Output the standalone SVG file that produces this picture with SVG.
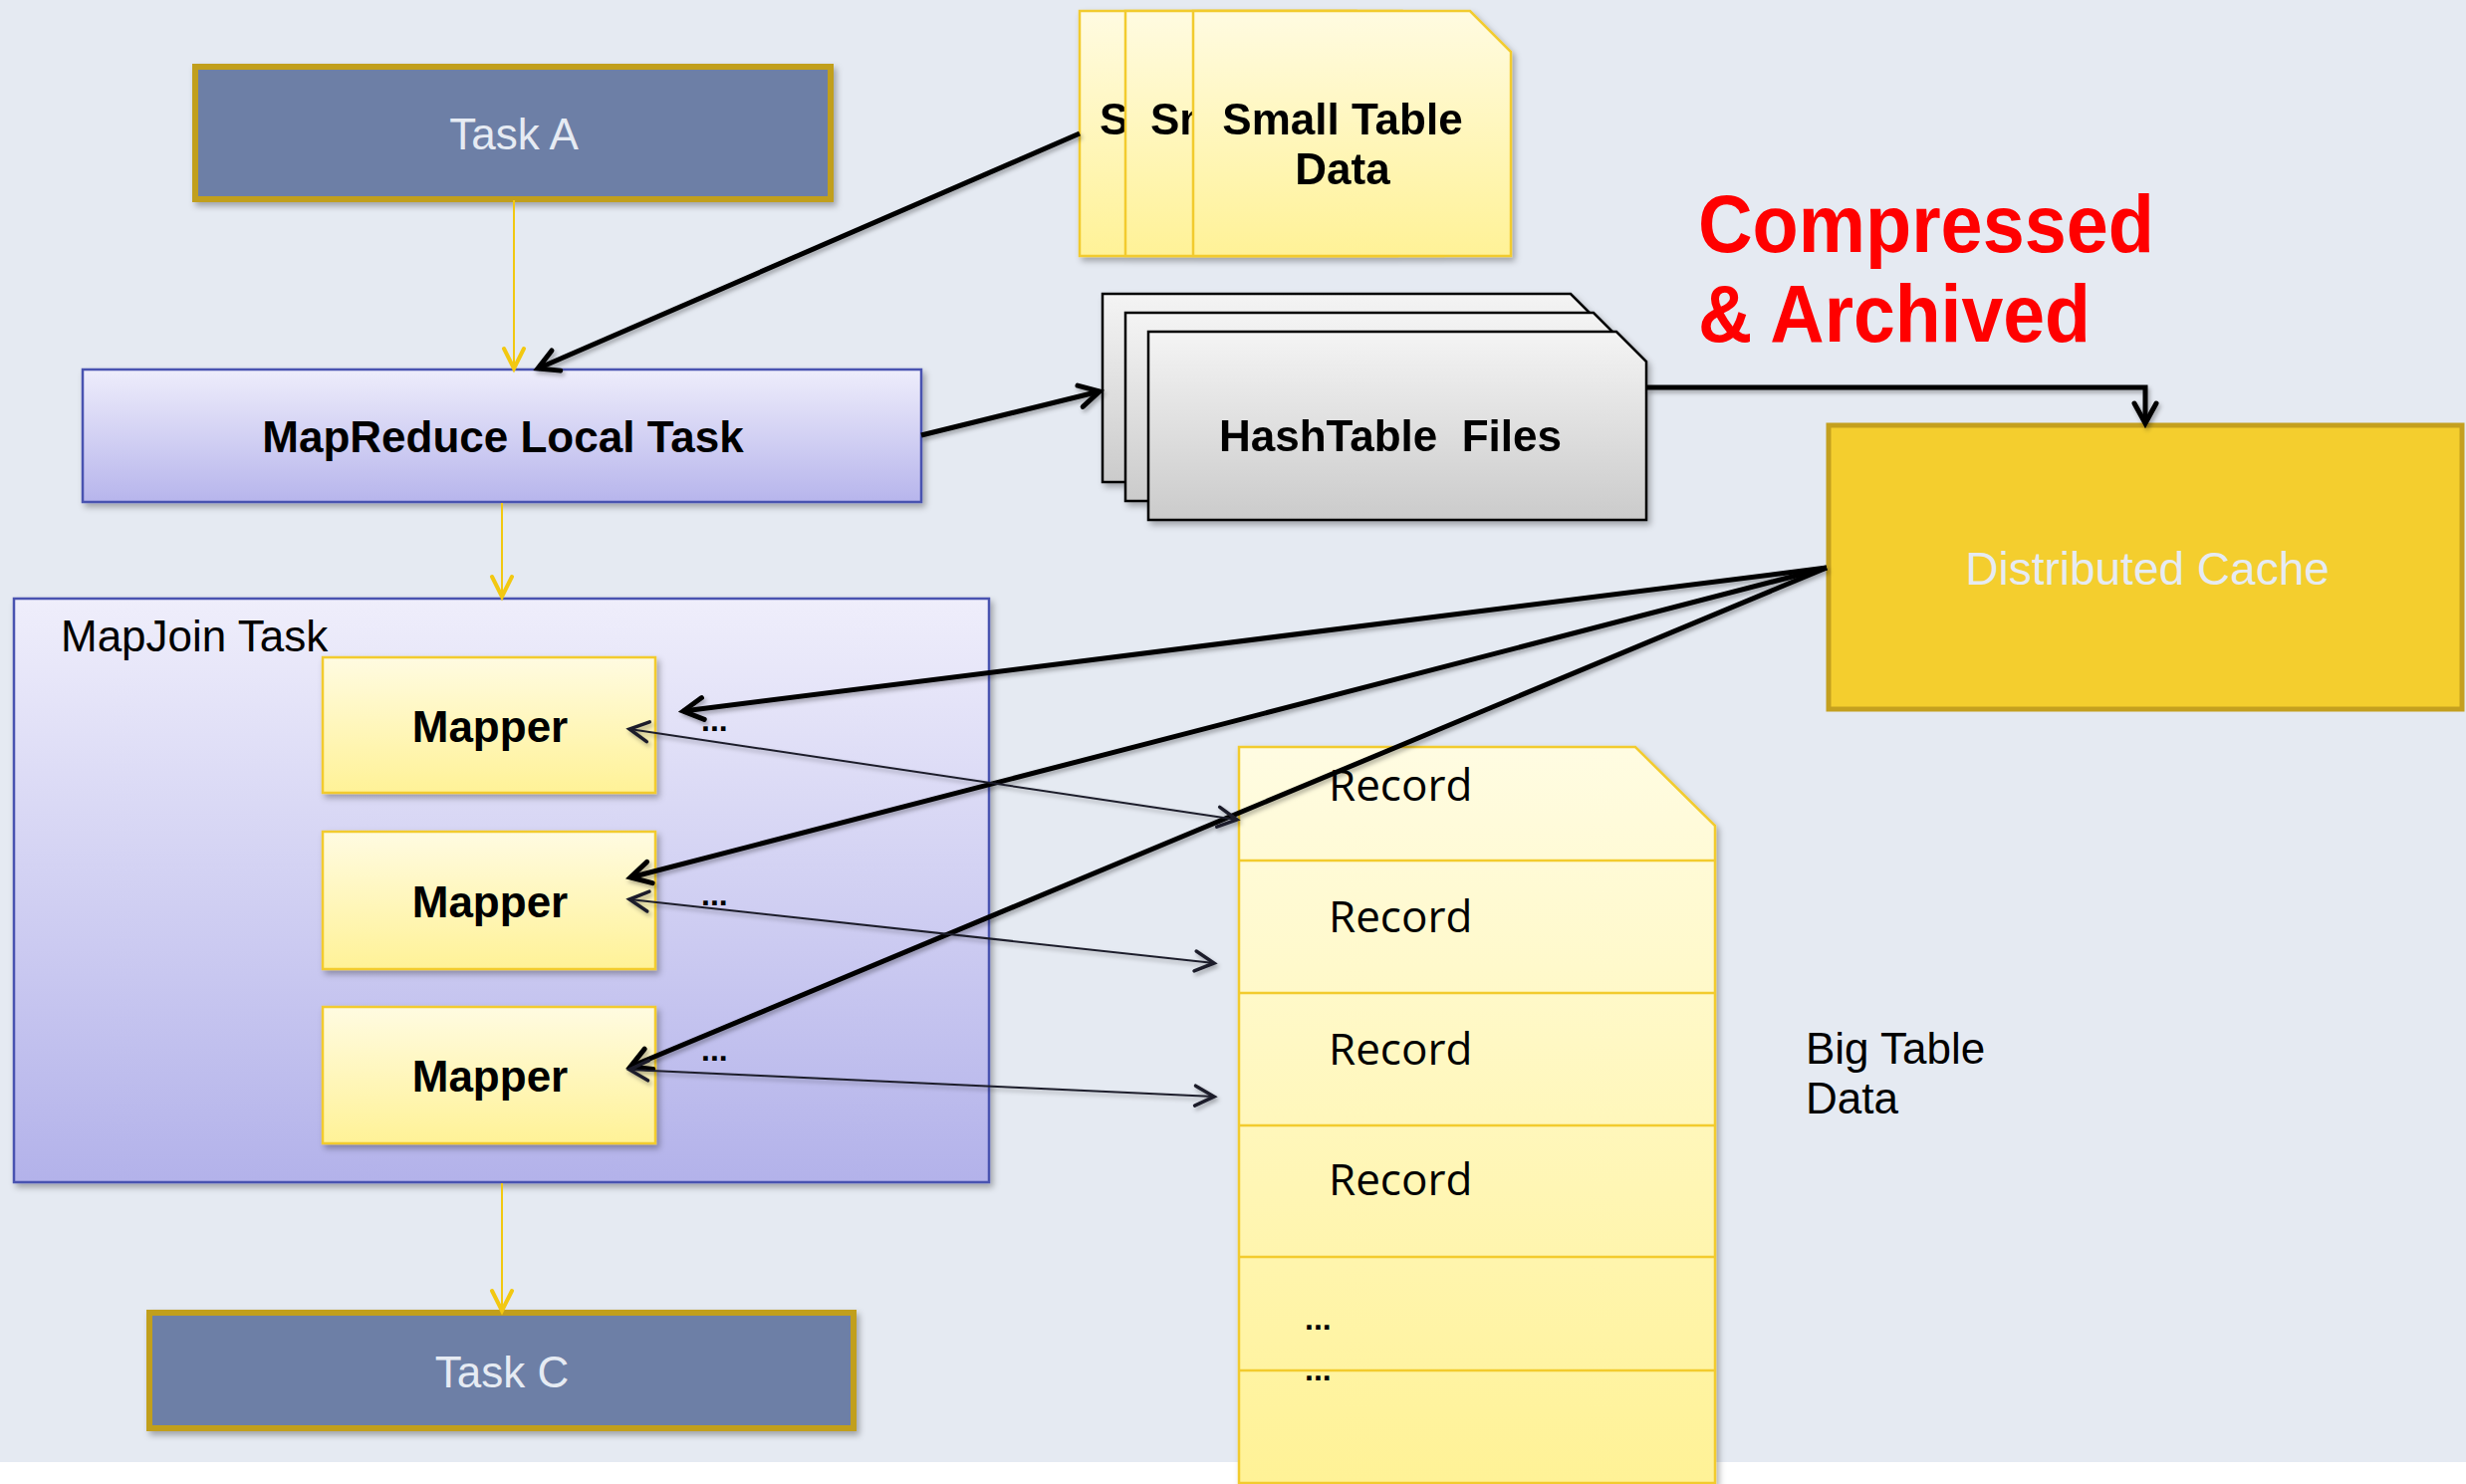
<svg xmlns="http://www.w3.org/2000/svg" width="2476" height="1490" viewBox="0 0 2476 1490">
  <defs>
    <linearGradient id="gYellow" x1="0" y1="0" x2="0" y2="1">
      <stop offset="0" stop-color="#fffbe1"/>
      <stop offset="1" stop-color="#fff297"/>
    </linearGradient>
    <linearGradient id="gLocal" x1="0" y1="0" x2="0" y2="1">
      <stop offset="0" stop-color="#eeedfb"/>
      <stop offset="1" stop-color="#b7b5ec"/>
    </linearGradient>
    <linearGradient id="gJoin" x1="0" y1="0" x2="0" y2="1">
      <stop offset="0" stop-color="#efeefb"/>
      <stop offset="1" stop-color="#b3b2ea"/>
    </linearGradient>
    <linearGradient id="gGray" x1="0" y1="0" x2="0" y2="1">
      <stop offset="0" stop-color="#f4f4f4"/>
      <stop offset="1" stop-color="#cbcbcb"/>
    </linearGradient>
    <linearGradient id="gBig" gradientUnits="userSpaceOnUse" x1="0" y1="750" x2="0" y2="1490">
      <stop offset="0" stop-color="#fffce2"/>
      <stop offset="1" stop-color="#fff296"/>
    </linearGradient>
    <filter id="nodeShadow" x="-10%" y="-10%" width="125%" height="130%">
      <feDropShadow dx="3" dy="4" stdDeviation="3" flood-color="#000" flood-opacity="0.3"/>
    </filter>
    <filter id="lineShadow" x="-5%" y="-5%" width="115%" height="115%">
      <feDropShadow dx="2" dy="3" stdDeviation="2" flood-color="#000" flood-opacity="0.3"/>
    </filter>
    <marker id="headThick" viewBox="-28 -16 36 32" refX="0" refY="0" markerWidth="36" markerHeight="32" markerUnits="userSpaceOnUse" orient="auto-start-reverse" overflow="visible">
      <path d="M-20,-11 L0,0 L-20,11" fill="none" stroke="#000" stroke-width="5" stroke-linecap="round"/>
    </marker>
    <marker id="headThin" viewBox="-28 -16 36 32" refX="0" refY="0" markerWidth="36" markerHeight="32" markerUnits="userSpaceOnUse" orient="auto-start-reverse" overflow="visible">
      <path d="M-19,-10 L0,0 L-19,10" fill="none" stroke="#1d1f2c" stroke-width="3.5" stroke-linecap="round"/>
    </marker>
    <marker id="headYellow" viewBox="-28 -16 36 32" refX="0" refY="0" markerWidth="36" markerHeight="32" markerUnits="userSpaceOnUse" orient="auto" overflow="visible">
      <path d="M-20,-10 L0,0 L-20,10" fill="none" stroke="#f2c811" stroke-width="4" stroke-linecap="round"/>
    </marker>
  </defs>
  <style>
    .sans { font-family: "Liberation Sans", Arial, sans-serif; }
    .task { fill: #6d7fa6; stroke: #c19f1f; stroke-width: 6; }
    .taskText { fill: #e6ebf3; font-size: 44px; text-anchor: middle; }
    .lbl { fill: #000; font-size: 44px; }
    .bold { font-weight: bold; }
    .sheetY { fill: url(#gYellow); stroke: #f2cb2e; stroke-width: 2.5; }
    .sheetG { fill: url(#gGray); stroke: #000; stroke-width: 2.5; }
    .mapper { fill: url(#gYellow); stroke: #f2cb2e; stroke-width: 2.5; }
    .rec { font-family: "Open Sans", "Noto Sans", sans-serif; font-size: 44px; fill: #000; }
    .dots { font-size: 32px; fill: #000; font-weight: bold; }
    .flowY { stroke: #f2c811; stroke-width: 2; fill: none; marker-end: url(#headYellow); }
    .flowB { stroke: #000; stroke-width: 5; fill: none; marker-end: url(#headThick); }
    .flowT { stroke: #1d1f2c; stroke-width: 2; fill: none; marker-start: url(#headThin); marker-end: url(#headThin); }
  </style>

  <!-- backdrop -->
  <rect x="0" y="0" width="2476" height="1490" fill="#ffffff"/>
  <rect x="0" y="0" width="2476" height="1468" fill="#e5eaf2"/>

  <!-- Task A -->
  <g id="task-a">
    <rect class="task" x="196" y="67" width="638" height="133" filter="url(#nodeShadow)"/>
    <text class="sans taskText" x="516" y="150">Task A</text>
  </g>

  <!-- MapReduce local task -->
  <g id="local-task">
    <rect x="83" y="371" width="842" height="133" fill="url(#gLocal)" stroke="#4a52b0" stroke-width="2.5" filter="url(#nodeShadow)"/>
    <text class="sans lbl bold" x="505" y="454" text-anchor="middle">MapReduce Local Task</text>
  </g>

  <!-- Small table data files (stacked) -->
  <g id="small-table" filter="url(#nodeShadow)">
    <path class="sheetY" d="M1084,11 H1362 L1403,52 V257 H1084 Z"/>
    <text class="sans lbl bold" x="1104" y="135">S</text>
    <path class="sheetY" d="M1130,11 H1408 L1449,52 V257 H1130 Z"/>
    <text class="sans lbl bold" x="1155" y="135">Sm</text>
    <path class="sheetY" d="M1198,11 H1476 L1517,52 V257 H1198 Z"/>
    <text class="sans lbl bold" x="1348" y="135" text-anchor="middle">Small Table</text>
    <text class="sans lbl bold" x="1348" y="185" text-anchor="middle">Data</text>
  </g>

  <!-- HashTable files (stacked) -->
  <g id="hashtable-files" filter="url(#nodeShadow)">
    <path class="sheetG" d="M1107,295 H1577 L1607,325 V484 H1107 Z"/>
    <path class="sheetG" d="M1130,314 H1600 L1630,344 V503 H1130 Z"/>
    <path class="sheetG" d="M1153,333 H1623 L1653,363 V522 H1153 Z"/>
    <text class="sans lbl bold" x="1396" y="453" text-anchor="middle" xml:space="preserve">HashTable  Files</text>
  </g>

  <!-- Annotation -->
  <g id="compressed-note">
    <text class="sans bold" x="1705" y="253" font-size="82" fill="#ff0000" textLength="458" lengthAdjust="spacingAndGlyphs">Compressed</text>
    <text class="sans bold" x="1705" y="343" font-size="82" fill="#ff0000" textLength="394" lengthAdjust="spacingAndGlyphs">&amp; Archived</text>
  </g>

  <!-- Distributed cache -->
  <g id="distributed-cache">
    <rect x="1836" y="427" width="636" height="285" fill="#f4ce2e" stroke="#c4a01f" stroke-width="5"/>
    <text class="sans" x="2156" y="587" font-size="46" fill="#e6ebf3" text-anchor="middle">Distributed Cache</text>
  </g>

  <!-- MapJoin task container with mappers -->
  <g id="mapjoin-task">
    <rect x="14" y="601" width="979" height="586" fill="url(#gJoin)" stroke="#4a52b0" stroke-width="2.5" filter="url(#nodeShadow)"/>
    <text class="sans lbl" x="61" y="654">MapJoin Task</text>
  </g>
  <g id="mapper-1">
    <rect class="mapper" x="324" y="660" width="334" height="136" filter="url(#nodeShadow)"/>
    <text class="sans lbl bold" x="492" y="745" text-anchor="middle">Mapper</text>
    <text class="sans dots" x="704" y="734">...</text>
  </g>
  <g id="mapper-2">
    <rect class="mapper" x="324" y="835" width="334" height="138" filter="url(#nodeShadow)"/>
    <text class="sans lbl bold" x="492" y="921" text-anchor="middle">Mapper</text>
    <text class="sans dots" x="704" y="909">...</text>
  </g>
  <g id="mapper-3">
    <rect class="mapper" x="324" y="1011" width="334" height="137" filter="url(#nodeShadow)"/>
    <text class="sans lbl bold" x="492" y="1096" text-anchor="middle">Mapper</text>
    <text class="sans dots" x="704" y="1065">...</text>
  </g>

  <!-- Task C -->
  <g id="task-c">
    <rect class="task" x="150" y="1318" width="707" height="116" filter="url(#nodeShadow)"/>
    <text class="sans taskText" x="504" y="1393">Task C</text>
  </g>

  <!-- Big table data records -->
  <g id="big-table">
    <path d="M1244,750 H1642 L1722,829 V1489 H1244 Z" fill="url(#gBig)" stroke="#f2cb2e" stroke-width="2.5" filter="url(#nodeShadow)"/>
    <g stroke="#f2cb2e" stroke-width="2.5">
      <line x1="1244" y1="864" x2="1722" y2="864"/>
      <line x1="1244" y1="997" x2="1722" y2="997"/>
      <line x1="1244" y1="1130" x2="1722" y2="1130"/>
      <line x1="1244" y1="1262" x2="1722" y2="1262"/>
      <line x1="1244" y1="1376" x2="1722" y2="1376"/>
    </g>
    <text class="rec" x="1334" y="804">Record</text>
    <text class="rec" x="1334" y="936">Record</text>
    <text class="rec" x="1334" y="1069">Record</text>
    <text class="rec" x="1334" y="1200">Record</text>
    <text class="sans dots" x="1310" y="1335">...</text>
    <text class="sans dots" x="1310" y="1386">...</text>
  </g>
  <g id="big-table-label">
    <text class="sans lbl" x="1813" y="1068">Big Table</text>
    <text class="sans lbl" x="1813" y="1118">Data</text>
  </g>

  <!-- Connectors -->
  <g id="connectors">
    <line class="flowY" x1="516" y1="201" x2="516" y2="370"/>
    <line class="flowY" x1="504" y1="505" x2="504" y2="599"/>
    <line class="flowY" x1="504" y1="1188" x2="504" y2="1316"/>
    <g filter="url(#lineShadow)">
      <line class="flowB" x1="1084" y1="134" x2="540" y2="370"/>
      <line class="flowB" x1="925" y1="437" x2="1104" y2="393"/>
      <polyline class="flowB" points="1653,389 2154,389 2154,425"/>
      <line class="flowB" x1="1834" y1="570" x2="686" y2="714"/>
      <line class="flowB" x1="1834" y1="570" x2="633" y2="881"/>
      <line class="flowB" x1="1834" y1="570" x2="633" y2="1071"/>
      <line class="flowT" x1="632" y1="732" x2="1242" y2="823"/>
      <line class="flowT" x1="632" y1="903" x2="1219" y2="967"/>
      <line class="flowT" x1="632" y1="1074" x2="1219" y2="1101"/>
    </g>
  </g>
</svg>
